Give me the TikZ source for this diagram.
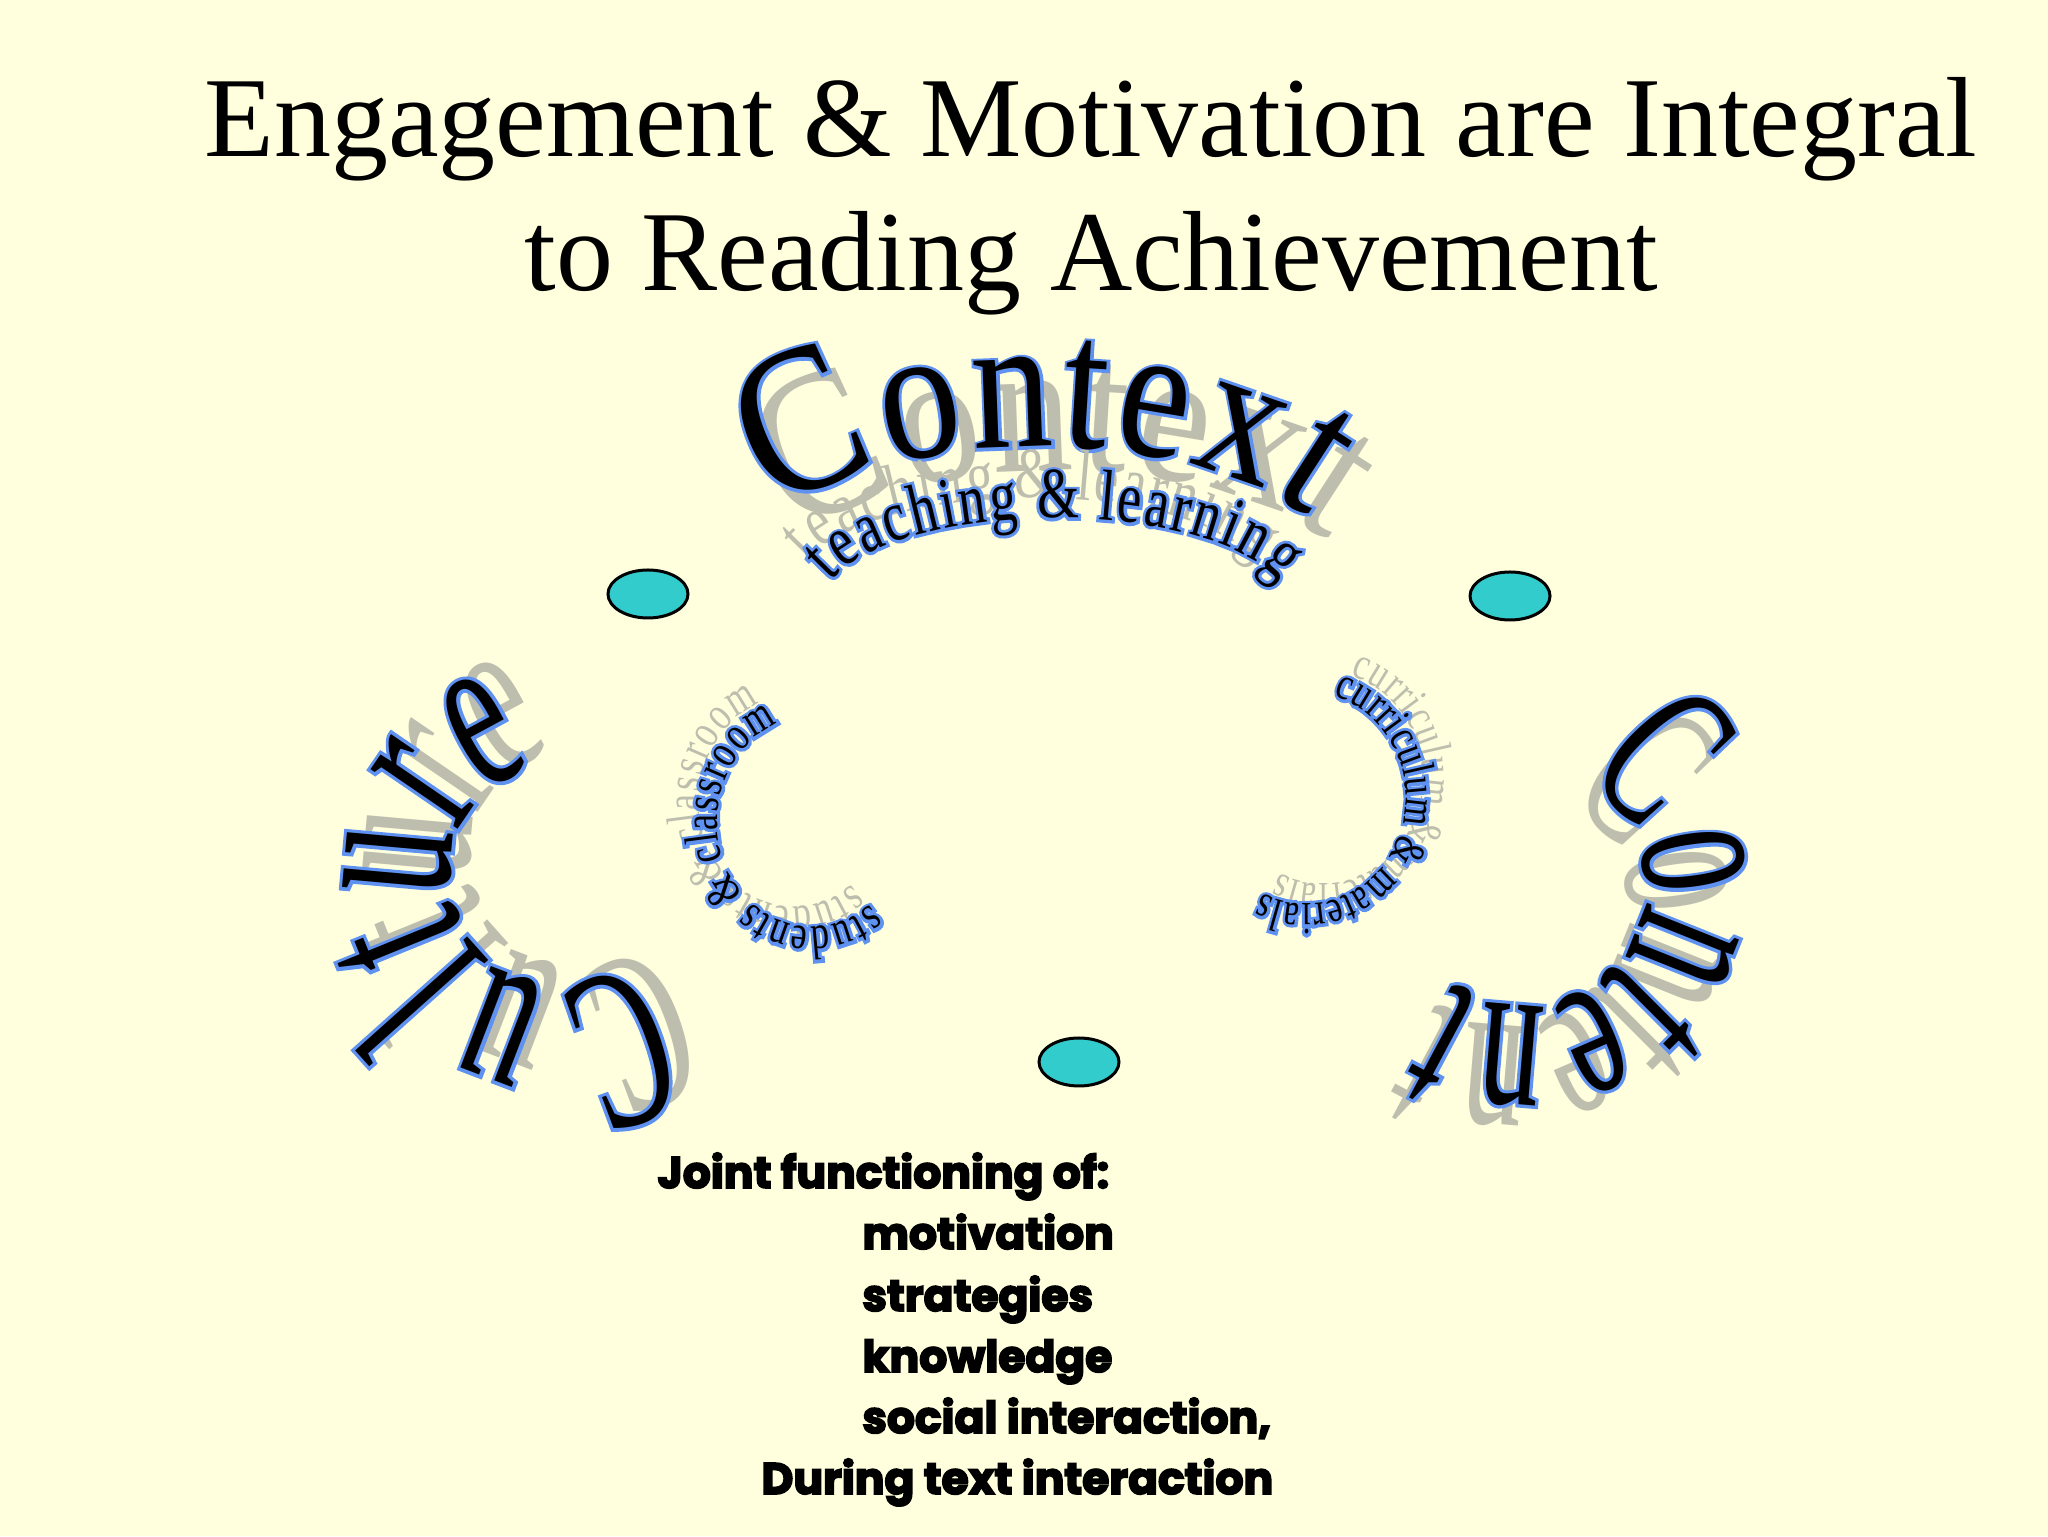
\documentclass[tikz,border=0pt]{standalone}
\usepackage{fontspec}
\setmainfont{Liberation Serif}
\usetikzlibrary{decorations.text,shapes.geometric,calc}
\newfontfamily\famA[FakeStretch=0.85]{Liberation Serif}
\newfontfamily\famAB[FakeStretch=0.85,FakeBold=3]{Liberation Serif}
\newfontfamily\famT[FakeStretch=0.75]{Liberation Serif}
\newfontfamily\famTB[FakeStretch=0.75,FakeBold=8]{Liberation Serif}
\newfontfamily\famC[FakeStretch=0.58]{Liberation Serif}
\newfontfamily\famCB[FakeStretch=0.58,FakeBold=3]{Liberation Serif}
\newfontfamily\famS[FakeStretch=0.75]{Liberation Serif}
\newfontfamily\famSB[FakeStretch=0.75,FakeBold=13]{Liberation Serif}
\newfontfamily\jointfont[BoldFeatures={FakeBold=4}]{Poppins}
\definecolor{bg}{RGB}{255,255,221}
\definecolor{shadowgrey}{RGB}{190,190,175}
\definecolor{outlineblue}{RGB}{95,145,240}
\definecolor{ovalcyan}{RGB}{51,204,204}
\newcommand\wordart[5]{%
  \path[shift={#2}, decorate, decoration={text along path, text align=fit to path, text color=shadowgrey, text={|#3|#5}}] #1;
  \path[decorate, decoration={text along path, text align=fit to path, text color=outlineblue, text={|#4|#5}}] #1;
  \path[decorate, decoration={text along path, text align=fit to path, text color=black, text={|#3|#5}}] #1;
}
\newcommand\ctxN{\famA\fontsize{95}{95}\selectfont}
\newcommand\ctxNB{\famAB\fontsize{95}{95}\selectfont}
\newcommand\ctxC{\famA\fontsize{105}{105}\selectfont}
\newcommand\ctxCB{\famAB\fontsize{105}{105}\selectfont}
\tikzset{
  oval/.style={ellipse, draw=black, line width=1.5pt, fill=ovalcyan, minimum width=40pt, minimum height=24pt, inner sep=0pt},
  titletext/.style={anchor=base, inner sep=0pt, font=\fontsize{57}{60}\selectfont},
  jt/.style={anchor=base west, inner sep=0pt, font=\jointfont\bfseries\fontsize{22}{24}\selectfont},
  ctxdeco/.style={decorate, decoration={text along path, text align=fit to path, text color=#1}}
}
\begin{document}
\begin{tikzpicture}[x=0.5pt,y=0.5pt]
\fill[bg] (0,0) rectangle (2048,1536);
\useasboundingbox (0,0) rectangle (2048,1536);
% title
\node[titletext] (t1) at (1091,1379) {Engagement \& Motivation are Integral};
\node[titletext] (t2) at (1091,1245) {to Reading Achievement};
% Context
\path[shift={(20,-24)}, ctxdeco=shadowgrey, decoration={text={|\ctxC|C|\ctxN|ontext}}] ($(1040,959)+(152:300 and 130)$) arc[start angle=152,end angle=27,x radius=300,y radius=130];
\path[ctxdeco=outlineblue, decoration={text={|\ctxCB|C|\ctxNB|ontext}}] ($(1040,959)+(152:300 and 130)$) arc[start angle=152,end angle=27,x radius=300,y radius=130];
\path[ctxdeco=black, decoration={text={|\ctxC|C|\ctxN|ontext}}] ($(1040,959)+(152:300 and 130)$) arc[start angle=152,end angle=27,x radius=300,y radius=130];
% teaching & learning
\wordart{($(1055,928)+(163:235 and 90)$) arc[start angle=163,end angle=17,x radius=235,y radius=90]}{(-23,20)}{\famT\fontsize{36}{36}\selectfont}{\famTB\fontsize{36}{36}\selectfont}{teaching {\&} learning}
% Culture
\wordart{($(560,661)+(-47:110)$) arc[start angle=-47,end angle=-257,radius=110]}{(20,17)}{\famC\fontsize{115}{115}\selectfont}{\famCB\fontsize{115}{115}\selectfont}{Culture}
% Content
\wordart{($(1525,651)+(63:120)$) arc[start angle=63,end angle=-119,radius=120]}{(-17,-20)}{\famC\fontsize{108}{108}\selectfont}{\famCB\fontsize{108}{108}\selectfont}{Content}
% students & classroom
\wordart{($(812,714)+(-52:95 and 105)$) arc[start angle=-52,end angle=-249,x radius=95,y radius=105]}{(-18,20)}{\famS\fontsize{24}{24}\selectfont}{\famSB\fontsize{24}{24}\selectfont}{students {\&} classroom}
% curriculum & materials
\wordart{($(1306,738)+(74:100 and 106)$) arc[start angle=74,end angle=-116,x radius=100,y radius=106]}{(17,20)}{\famS\fontsize{23}{23}\selectfont}{\famSB\fontsize{23}{23}\selectfont}{curriculum {\&} materials}
% ovals
\node[oval] (o1) at (648,942) {};
\node[oval] (o2) at (1510,940) {};
\node[oval] (o3) at (1079,474) {};
% joint functioning
\node[jt] (j1) at (657,348) {Joint functioning of:};
\node[jt] (j2) at (862,287) {motivation};
\node[jt] (j3) at (862,225) {strategies};
\node[jt] (j4) at (862,164) {knowledge};
\node[jt] (j5) at (862,103) {social interaction,};
\node[jt] (j6) at (761,42) {During text interaction};
\end{tikzpicture}
\end{document}
